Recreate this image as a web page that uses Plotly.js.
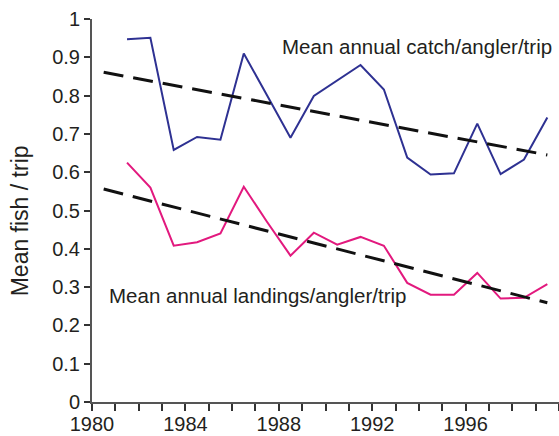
<!DOCTYPE html>
<html>
<head>
<meta charset="utf-8">
<script src="https://cdn.plot.ly/plotly-3.0.1.min.js"></script>
<style>html,body{margin:0;padding:0;background:#fff;}#chart{width:559px;height:436px;}</style>
</head>
<body>
<div id="chart"></div>
<script>
// Years (points are plotted at mid-year)
const years = [1981,1982,1983,1984,1985,1986,1987,1988,1989,1990,1991,1992,1993,1994,1995,1996,1997,1998,1999];
const catchPerTrip = [0.947,0.951,0.658,0.692,0.685,0.910,0.800,0.690,0.799,0.840,0.880,0.816,0.638,0.594,0.597,0.727,0.595,0.633,0.743];
const landingsPerTrip = [0.625,0.560,0.408,0.417,0.440,0.562,0.470,0.382,0.442,0.411,0.431,0.408,0.311,0.280,0.280,0.337,0.270,0.272,0.308];
const trendX = [1980.5, 1999.5];
const catchTrend = [0.861, 0.645];
const landingsTrend = [0.556, 0.259];
const xTickVals = [1980,1984,1988,1992,1996];
const xTickText = ['1980','1984','1988','1992','1996'];

const midYear = years.map(y => y + 0.5);
const font = 'Liberation Sans, Arial, Helvetica, sans-serif';
const txt = '#231f20';

const traces = [
  {x: midYear, y: catchPerTrip, mode: 'lines', line: {color: '#2e3192', width: 2}, hoverinfo: 'skip'},
  {x: midYear, y: landingsPerTrip, mode: 'lines', line: {color: '#e2197e', width: 2}, hoverinfo: 'skip'},
  {x: trendX, y: catchTrend, mode: 'lines', line: {color: '#111', width: 3, dash: '20px,10px'}, hoverinfo: 'skip'},
  {x: trendX, y: landingsTrend, mode: 'lines', line: {color: '#111', width: 3, dash: '20px,10px'}, hoverinfo: 'skip'}
];

const layout = {
  width: 559, height: 436,
  margin: {l: 92, r: 0, t: 19, b: 34, pad: 0},
  paper_bgcolor: '#fff', plot_bgcolor: '#fff',
  showlegend: false,
  font: {family: font, color: txt, size: 20},
  xaxis: {
    range: [1980, 2000], showgrid: false, zeroline: false,
    showline: true, linecolor: '#555', linewidth: 2,
    tickmode: 'array', tickvals: xTickVals, ticktext: xTickText,
    ticks: 'outside', ticklen: 7, tickwidth: 2, tickcolor: '#333',
    ticklabelstandoff: -4,
    tickfont: {family: font, size: 20, color: txt},
    minor: {dtick: 1, tick0: 1980, ticks: 'outside', ticklen: 7, tickwidth: 2, tickcolor: '#333', showgrid: false},
    fixedrange: true
  },
  yaxis: {
    range: [0, 1], showgrid: false, zeroline: false,
    showline: true, linecolor: '#555', linewidth: 2,
    tickmode: 'linear', tick0: 0, dtick: 0.1,
    ticks: 'outside', ticklen: 6, tickwidth: 2, tickcolor: '#333',
    tickfont: {family: font, size: 20, color: txt},
    fixedrange: true
  },
  annotations: [
    {xref: 'paper', yref: 'paper', x: -0.154, y: 0.472, xanchor: 'center', yanchor: 'middle',
     text: 'Mean fish / trip', textangle: -90, showarrow: false, font: {family: font, size: 23, color: txt}},
    {xref: 'x', yref: 'y', x: 1988.05, y: 0.929, xanchor: 'left', yanchor: 'middle',
     text: 'Mean annual catch/angler/trip', showarrow: false, font: {family: font, size: 20.5, color: txt}},
    {xref: 'x', yref: 'y', x: 1980.65, y: 0.279, xanchor: 'left', yanchor: 'middle',
     text: 'Mean annual landings/angler/trip', showarrow: false, font: {family: font, size: 20.5, color: txt}}
  ]
};

Plotly.newPlot('chart', traces, layout, {displayModeBar: false, staticPlot: true});
</script>
</body>
</html>
